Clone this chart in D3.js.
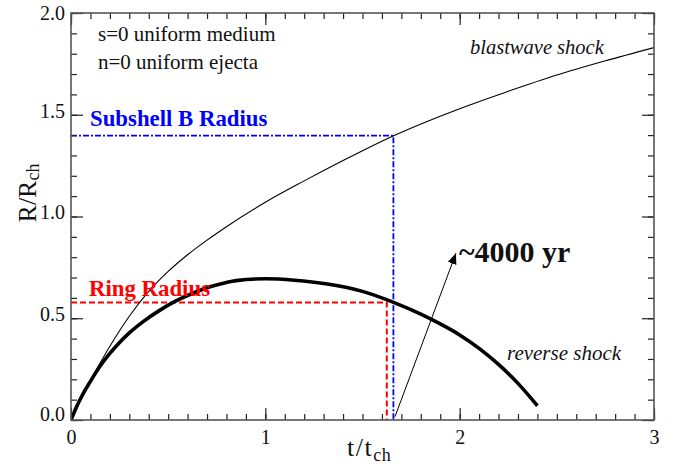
<!DOCTYPE html>
<html>
<head>
<meta charset="utf-8">
<script src="https://cdn.jsdelivr.net/npm/d3@7"></script>
<style>
  body { margin: 0; background: #fff; }
  svg { display: block; }
  text { font-family: "Liberation Serif", "Times New Roman", serif; }
</style>
</head>
<body>
<svg id="chart" width="683" height="468"></svg>
<script>
// Forward (blastwave) shock radius vs. time, in characteristic units
const blastT = [0, 0.03, 0.06, 0.1, 0.15, 0.2, 0.3, 0.4, 0.5, 0.6, 0.7, 0.8, 1.0, 1.2, 1.4, 1.66, 2.0, 2.25, 2.5, 2.75, 3.0];
const blastR = [0, 0.068, 0.125, 0.195, 0.28, 0.362, 0.51, 0.632, 0.73, 0.812, 0.884, 0.95, 1.07, 1.175, 1.275, 1.397, 1.53, 1.615, 1.695, 1.765, 1.83];

// Reverse shock radius vs. time
const reverseT = [0, 0.03, 0.06, 0.1, 0.15, 0.2, 0.25, 0.3, 0.375, 0.45, 0.54, 0.63, 0.72, 0.8, 0.85, 1.0, 1.15, 1.32, 1.5, 1.66, 1.8, 1.9, 2.0, 2.1, 2.2, 2.3, 2.4];
const reverseR = [0, 0.068, 0.125, 0.19, 0.265, 0.327, 0.381, 0.428, 0.486, 0.535, 0.585, 0.624, 0.656, 0.676, 0.685, 0.694, 0.687, 0.668, 0.632, 0.578, 0.52, 0.472, 0.418, 0.352, 0.273, 0.18, 0.07];

// Reference radii and the times at which the reverse shock / blastwave reach them
const ringMark = [1.625, 0.578];      // [t, R]
const subshellMark = [1.659, 1.397];  // [t, R]

// Age arrow: tail and head in (t, R)
const arrowT = [1.667, 1.981];
const arrowR = [0.016, 0.82];

// Axis ticks
const xTicks = [0, 1, 2, 3];
const yTicks = [0, 0.5, 1.0, 1.5, 2.0];

const svg = d3.select("#chart");
const x = d3.scaleLinear().domain([0, 3]).range([71, 654]);
const y = d3.scaleLinear().domain([0, 2]).range([420, 13]);

const serif = '"Liberation Serif", "Times New Roman", serif';

svg.append("clipPath").attr("id", "plotClip")
  .append("rect").attr("x", x(0)).attr("y", y(2)).attr("width", x(3) - x(0)).attr("height", y(0) - y(2));

const plot = svg.append("g").attr("clip-path", "url(#plotClip)");
const line = d3.line().x(d => x(d[0])).y(d => y(d[1])).curve(d3.curveMonotoneX);

// Ring radius (red dashed)
plot.append("path")
  .attr("d", d3.line()([[x(0), y(ringMark[1])], [x(ringMark[0]), y(ringMark[1])], [x(ringMark[0]), y(0)]]))
  .attr("fill", "none").attr("stroke", "#ff0000").attr("stroke-width", 2).attr("stroke-dasharray", "6,3");

// Subshell B radius (blue dash-dot)
plot.append("path")
  .attr("d", d3.line()([[x(0), y(subshellMark[1])], [x(subshellMark[0]), y(subshellMark[1])], [x(subshellMark[0]), y(0)]]))
  .attr("fill", "none").attr("stroke", "#0000ff").attr("stroke-width", 1.8).attr("stroke-dasharray", "6,2,2,2");

// Blastwave
plot.append("path").datum(blastT.map((t, i) => [t, blastR[i]]))
  .attr("d", line).attr("fill", "none").attr("stroke", "#000").attr("stroke-width", 1.1);

// Reverse shock
plot.append("path").datum(reverseT.map((t, i) => [t, reverseR[i]]))
  .attr("d", line).attr("fill", "none").attr("stroke", "#000").attr("stroke-width", 3.6)
  .attr("stroke-linejoin", "round");

// Arrow
svg.append("defs").append("marker")
  .attr("id", "head").attr("markerUnits", "userSpaceOnUse")
  .attr("viewBox", "0 0 11 9").attr("refX", 11).attr("refY", 4.5)
  .attr("markerWidth", 11).attr("markerHeight", 9).attr("orient", "auto")
  .append("path").attr("d", "M0,0 L11,4.5 L0,9 Z").attr("fill", "#000");
svg.append("line")
  .attr("x1", x(arrowT[0])).attr("y1", y(arrowR[0]))
  .attr("x2", x(arrowT[1])).attr("y2", y(arrowR[1]))
  .attr("stroke", "#000").attr("stroke-width", 1).attr("marker-end", "url(#head)");

// Axes: major ticks with labels, minor ticks every 0.1, all pointing inward
function styleAxis(g) {
  g.select(".domain").remove();
  g.selectAll(".tick line").attr("stroke", "#222").attr("stroke-width", 1.2);
  g.selectAll("text").attr("font-family", serif).attr("font-size", 20).attr("fill", "#111");
}
const xMinor = x.ticks(30), yMinor = y.ticks(20);

svg.append("g").attr("transform", `translate(0,${y(0)})`)
  .call(d3.axisBottom(x).tickValues(xMinor).tickSize(-6).tickFormat("")).call(styleAxis);
svg.append("g").attr("transform", `translate(0,${y(0)})`)
  .call(d3.axisBottom(x).tickValues(xTicks).tickSize(-12).tickPadding(10).tickFormat(d3.format("d"))).call(styleAxis);
svg.append("g").attr("transform", `translate(0,${y(2)})`)
  .call(d3.axisTop(x).tickValues(xMinor).tickSize(-6).tickFormat("")).call(styleAxis);
svg.append("g").attr("transform", `translate(0,${y(2)})`)
  .call(d3.axisTop(x).tickValues(xTicks).tickSize(-12).tickFormat("")).call(styleAxis);

svg.append("g").attr("transform", `translate(${x(0)},0)`)
  .call(d3.axisLeft(y).tickValues(yMinor).tickSize(-6).tickFormat("")).call(styleAxis);
const yAx = svg.append("g").attr("transform", `translate(${x(0)},0)`)
  .call(d3.axisLeft(y).tickValues(yTicks).tickSize(-12).tickPadding(6).tickFormat(d3.format(".1f"))).call(styleAxis);
yAx.selectAll("text").attr("y", d => d === 2 ? 0 : (d === 0 ? -6 : -4));
svg.append("g").attr("transform", `translate(${x(3)},0)`)
  .call(d3.axisRight(y).tickValues(yMinor).tickSize(-6).tickFormat("")).call(styleAxis);
svg.append("g").attr("transform", `translate(${x(3)},0)`)
  .call(d3.axisRight(y).tickValues(yTicks).tickSize(-12).tickFormat("")).call(styleAxis);

// Frame
svg.append("rect")
  .attr("x", x(0)).attr("y", y(2)).attr("width", x(3) - x(0)).attr("height", y(0) - y(2))
  .attr("fill", "none").attr("stroke", "#555").attr("stroke-width", 1.6);

// Axis titles
const xt = svg.append("text").attr("x", 347).attr("y", 456)
  .attr("font-size", 26).attr("fill", "#111");
xt.append("tspan").attr("letter-spacing", 1.5).text("t/t");
xt.append("tspan").attr("font-size", 18).attr("letter-spacing", 0.5).attr("dy", 5).text("ch");

const yt = svg.append("text").attr("transform", "translate(36,193) rotate(-90)")
  .attr("text-anchor", "middle").attr("font-size", 26).attr("fill", "#111");
yt.append("tspan").text("R/R");
yt.append("tspan").attr("font-size", 18).attr("dy", 3).text("ch");

// Annotations
function label(txt, px, py, opts) {
  const o = Object.assign({ size: 21, weight: "normal", style: "normal", color: "#111" }, opts);
  svg.append("text").attr("x", px).attr("y", py)
    .attr("font-size", o.size).attr("font-weight", o.weight).attr("font-style", o.style)
    .attr("fill", o.color).text(txt);
}
label("s=0 uniform medium", 98, 41);
label("n=0 uniform ejecta", 98, 69);
label("blastwave shock", 470, 54, { size: 20.5, style: "italic" });
label("reverse shock", 507, 360, { size: 21, style: "italic" });
label("Subshell B Radius", 90, 126, { size: 22.8, weight: "bold", color: "#0000ff" });
label("Ring Radius", 89, 296, { size: 22.8, weight: "bold", color: "#ff0000" });
label("~4000 yr", 459, 262, { size: 30, weight: "bold" });
</script>
</body>
</html>
